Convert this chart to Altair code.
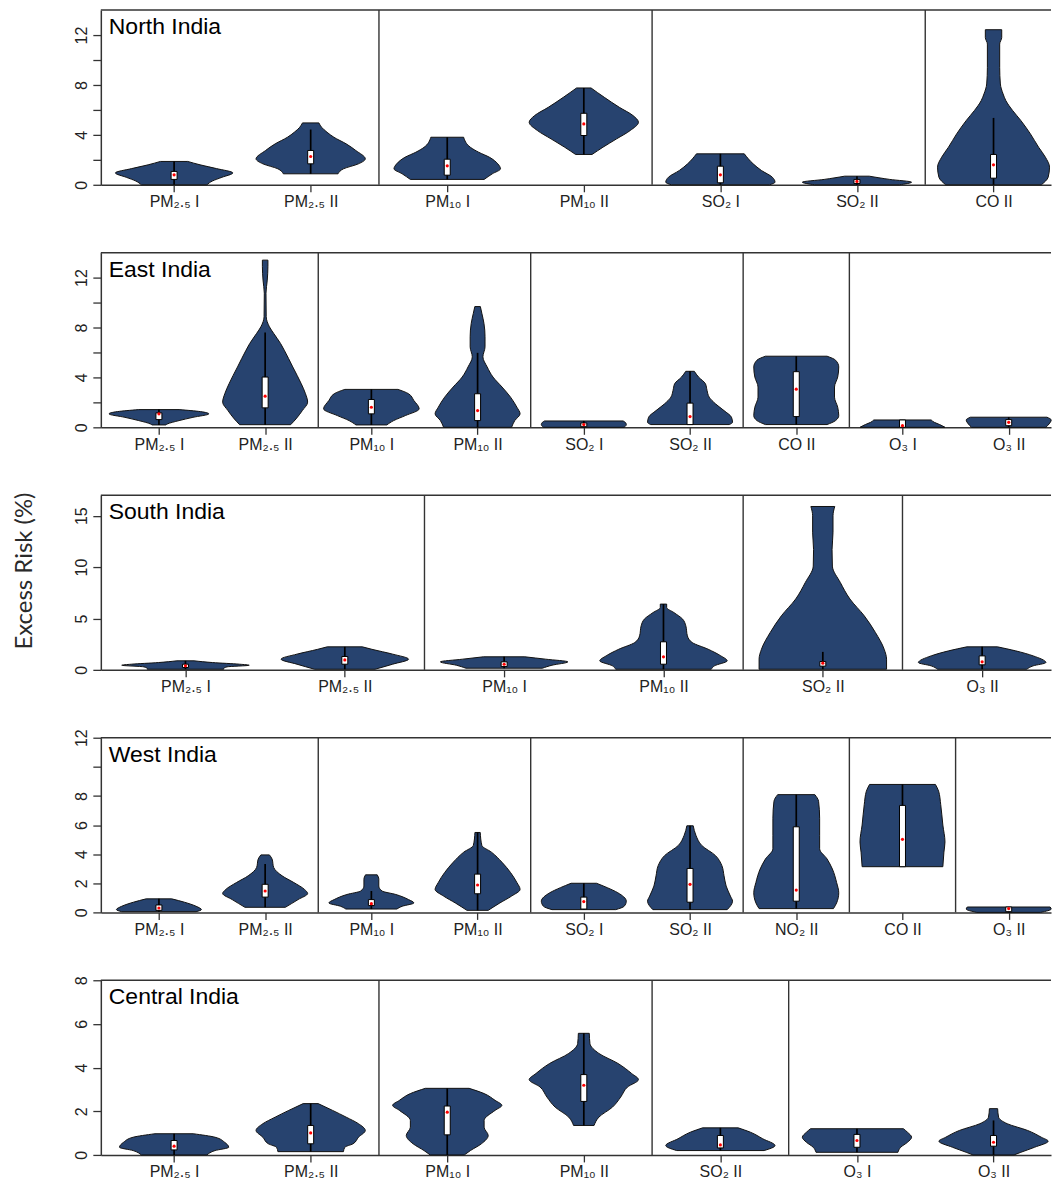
import json
import altair as alt
import pandas as pd

FONT = "Liberation Sans, Arial, Helvetica, sans-serif"
TITLE_FONT = "Lato, Open Sans, sans-serif"
FILL = "#27436F"
LINE = "#333333"
PANEL_W = 952
PANEL_H = 175
REF_W = 968

# ---------------- North India ----------------
NORTH_CATS = ["PM₂.₅ I", "PM₂.₅ II", "PM₁₀ I", "PM₁₀ II", "SO₂ I", "SO₂ II", "CO II"]
NORTH_BOUNDS = [2, 4, 6]
NORTH_YMAX = 14
NORTH_YTICKS = [0, 2, 4, 6, 8, 10, 12]
NORTH_YLABELS = [0, 4, 8, 12]
NORTH_VY = [
    [1.87, 1.6, 1.3, 0.95, 0.6, 0.3, 0.0],
    [4.96, 4.61, 4.21, 3.81, 3.28, 2.75, 2.08, 1.68, 1.28, 0.88],
    [3.81, 3.0, 2.61, 2.2, 1.68, 1.28, 0.88, 0.43],
    [7.76, 7.01, 6.21, 5.55, 5.01, 4.35, 3.68, 3.01, 2.43],
    [2.48, 1.68, 1.15, 0.61, 0.21, 0.0],
    [0.69, 0.43, 0.21, 0.0],
    [12.43, 11.8, 11.28, 9.41, 8.08, 7.28, 6.75, 5.95, 5.15, 4.08, 3.01, 2.21, 1.41, 0.61, 0.0],
]
NORTH_VW = [
    [0.10, 0.19, 0.31, 0.43, 0.35, 0.28, 0.24],
    [0.06, 0.08, 0.12, 0.17, 0.26, 0.33, 0.40, 0.35, 0.24, 0.20],
    [0.12, 0.17, 0.23, 0.31, 0.37, 0.39, 0.33, 0.27],
    [0.053, 0.15, 0.26, 0.36, 0.40, 0.34, 0.24, 0.14, 0.06],
    [0.175, 0.24, 0.30, 0.38, 0.40, 0.36],
    [0.09, 0.24, 0.40, 0.31],
    [0.06, 0.06, 0.045, 0.045, 0.05, 0.07, 0.09, 0.14, 0.2, 0.27, 0.33, 0.38, 0.41, 0.40, 0.35],
]
NORTH_BOX = [  # whisker low, q1, median, q3, whisker high
    [0, 0.43, 0.8, 1.07, 1.87],
    [0.88, 1.68, 2.27, 2.75, 4.43],
    [0.43, 0.77, 1.52, 2.05, 3.81],
    [2.43, 3.95, 4.88, 5.73, 7.76],
    [0, 0.16, 0.8, 1.49, 2.48],
    [0, 0.1, 0.27, 0.43, 0.69],
    [0, 0.53, 1.6, 2.43, 5.36],
]

# ---------------- East India ----------------
EAST_CATS = ["PM₂.₅ I", "PM₂.₅ II", "PM₁₀ I", "PM₁₀ II", "SO₂ I", "SO₂ II", "CO II", "O₃ I", "O₃ II"]
EAST_BOUNDS = [2, 4, 6, 7]
EAST_YMAX = 14
EAST_YTICKS = [0, 2, 4, 6, 8, 10, 12]
EAST_YLABELS = [0, 4, 8, 12]
EAST_VY = [
    [1.42, 1.26, 1.08, 0.8, 0.54, 0.27, 0.19],
    [13.4, 12.9, 11.8, 10.75, 8.87, 8.06, 7.53, 6.72, 6.18, 4.84, 3.49, 2.69, 2.02, 1.34, 0.67, 0.21],
    [3.04, 2.69, 2.15, 1.48, 0.94, 0.54, 0.19],
    [9.68, 9.14, 8.33, 7.26, 6.45, 5.65, 4.84, 4.03, 3.23, 2.42, 1.61, 1.08, 0.54, 0.0],
    [0.51, 0.4, 0.22, 0.0],
    [4.49, 4.03, 3.49, 2.96, 2.42, 1.88, 1.34, 0.81, 0.4, 0.22],
    [5.7, 5.38, 4.84, 4.03, 3.23, 2.42, 1.61, 0.94, 0.54, 0.22],
    [0.59, 0.4, 0.22, 0.0],
    [0.81, 0.59, 0.27, 0.0],
]
EAST_VW = [
    [0.19, 0.39, 0.47, 0.32, 0.19, 0.08, 0.065],
    [0.026, 0.026, 0.02, 0.008, 0.01, 0.04, 0.08, 0.145, 0.18, 0.26, 0.34, 0.38, 0.40, 0.35, 0.29, 0.24],
    [0.25, 0.35, 0.40, 0.45, 0.32, 0.21, 0.145],
    [0.026, 0.04, 0.06, 0.07, 0.07, 0.05, 0.09, 0.145, 0.23, 0.31, 0.37, 0.40, 0.35, 0.32],
    [0.37, 0.39, 0.40, 0.38],
    [0.04, 0.08, 0.145, 0.16, 0.18, 0.24, 0.32, 0.39, 0.40, 0.37],
    [0.29, 0.37, 0.40, 0.39, 0.36, 0.36, 0.39, 0.40, 0.37, 0.29],
    [0.27, 0.30, 0.35, 0.40],
    [0.36, 0.40, 0.38, 0.35],
]
EAST_BOX = [
    [0.19, 0.62, 1.08, 1.16, 1.42],
    [0.21, 1.56, 2.5, 4.03, 7.6],
    [0.19, 1.08, 1.61, 2.23, 3.04],
    [0, 0.54, 1.34, 2.69, 5.97],
    [0, 0.05, 0.22, 0.35, 0.51],
    [0.22, 0.22, 0.86, 1.94, 4.49],
    [0.22, 0.86, 3.06, 4.46, 5.7],
    [0, 0, 0.13, 0.59, 0.59],
    [0, 0.13, 0.4, 0.62, 0.81],
]

# ---------------- South India ----------------
SOUTH_CATS = ["PM₂.₅ I", "PM₂.₅ II", "PM₁₀ I", "PM₁₀ II", "SO₂ II", "O₃ II"]
SOUTH_BOUNDS = [2, 4, 5]
SOUTH_YMAX = 17
SOUTH_YTICKS = [0, 5, 10, 15]
SOUTH_YLABELS = [0, 5, 10, 15]
SOUTH_VY = [
    [0.88, 0.71, 0.55, 0.45, 0.29, 0.13, 0.06],
    [2.24, 2.0, 1.53, 1.04, 0.55, 0.06],
    [1.27, 1.04, 0.78, 0.45, 0.16],
    [6.4, 6.07, 5.58, 4.94, 4.29, 3.31, 2.66, 2.01, 1.36, 0.88, 0.39, 0.06],
    [15.9, 15.0, 13.4, 11.7, 10.1, 8.5, 6.9, 5.26, 3.64, 2.01, 1.04, 0.06],
    [2.24, 1.85, 1.36, 0.71, 0.39, 0.06],
]
SOUTH_VW = [
    [0.054, 0.17, 0.34, 0.40, 0.26, 0.24, 0.24],
    [0.11, 0.17, 0.30, 0.40, 0.30, 0.19],
    [0.13, 0.26, 0.40, 0.30, 0.24],
    [0.02, 0.02, 0.065, 0.12, 0.14, 0.15, 0.18, 0.28, 0.36, 0.40, 0.32, 0.30],
    [0.075, 0.064, 0.064, 0.058, 0.06, 0.11, 0.17, 0.26, 0.33, 0.385, 0.40, 0.40],
    [0.096, 0.21, 0.32, 0.40, 0.32, 0.28],
]
SOUTH_BOX = [
    [0.06, 0.23, 0.39, 0.55, 0.88],
    [0.06, 0.55, 0.97, 1.3, 2.24],
    [0.16, 0.32, 0.55, 0.78, 1.27],
    [0.06, 0.55, 1.27, 2.73, 6.4],
    [0.06, 0.36, 0.65, 0.81, 1.75],
    [0.06, 0.49, 0.78, 1.36, 2.24],
]

# ---------------- West India ----------------
WEST_CATS = ["PM₂.₅ I", "PM₂.₅ II", "PM₁₀ I", "PM₁₀ II", "SO₂ I", "SO₂ II", "NO₂ II", "CO II", "O₃ II"]
WEST_BOUNDS = [2, 4, 6, 7, 8]
WEST_YMAX = 12
WEST_YTICKS = [0, 2, 4, 6, 8, 10, 12]
WEST_YLABELS = [0, 2, 4, 6, 8, 12]
WEST_VY = [
    [0.93, 0.7, 0.42, 0.19, 0.05],
    [3.95, 3.67, 3.09, 2.51, 2.05, 1.58, 1.3, 0.88, 0.35],
    [2.58, 2.28, 1.81, 1.47, 1.23, 0.88, 0.65, 0.42, 0.23],
    [5.49, 4.6, 4.14, 3.44, 2.74, 2.05, 1.58, 1.12, 0.65, 0.14],
    [2.0, 1.7, 1.35, 0.77, 0.42, 0.19],
    [5.95, 5.3, 4.6, 3.9, 3.21, 2.51, 1.81, 1.12, 0.77, 0.19],
    [8.09, 7.63, 6.47, 5.3, 4.37, 3.67, 2.98, 2.05, 1.35, 0.65, 0.26],
    [8.79, 8.33, 7.4, 6.0, 4.84, 4.14, 3.14],
    [0.37, 0.23, 0.0],
]
WEST_VW = [
    [0.12, 0.24, 0.35, 0.40, 0.35],
    [0.04, 0.065, 0.08, 0.16, 0.27, 0.37, 0.40, 0.31, 0.19],
    [0.055, 0.07, 0.07, 0.1, 0.23, 0.35, 0.40, 0.29, 0.24],
    [0.025, 0.04, 0.13, 0.23, 0.31, 0.37, 0.40, 0.32, 0.21, 0.1],
    [0.12, 0.22, 0.32, 0.40, 0.38, 0.30],
    [0.03, 0.055, 0.11, 0.24, 0.30, 0.32, 0.34, 0.38, 0.40, 0.35],
    [0.175, 0.21, 0.22, 0.22, 0.22, 0.29, 0.34, 0.38, 0.40, 0.38, 0.35],
    [0.31, 0.34, 0.36, 0.38, 0.40, 0.39, 0.38],
    [0.39, 0.40, 0.30],
]
WEST_BOX = [
    [0.05, 0.14, 0.3, 0.51, 0.93],
    [0.35, 1.05, 1.47, 1.93, 3.33],
    [0.23, 0.47, 0.6, 0.88, 1.47],
    [0.14, 1.28, 1.88, 2.63, 5.49],
    [0.19, 0.23, 0.74, 1.05, 2.0],
    [0.19, 0.7, 1.93, 3.02, 5.95],
    [0.26, 0.77, 1.53, 5.88, 8.09],
    [3.14, 3.14, 5.02, 7.35, 8.79],
    [0, 0.05, 0.26, 0.37, 0.37],
]

# ---------------- Central India ----------------
CENTRAL_CATS = ["PM₂.₅ I", "PM₂.₅ II", "PM₁₀ I", "PM₁₀ II", "SO₂ II", "O₃ I", "O₃ II"]
CENTRAL_BOUNDS = [2, 4, 5]
CENTRAL_YMAX = 8
CENTRAL_YTICKS = [0, 2, 4, 6, 8]
CENTRAL_YLABELS = [0, 2, 4, 6, 8]
CENTRAL_VY = [
    [0.97, 0.81, 0.58, 0.35, 0.2, 0.0],
    [2.35, 2.04, 1.73, 1.43, 1.12, 0.81, 0.51, 0.35, 0.15],
    [3.05, 2.81, 2.5, 2.27, 2.04, 1.58, 1.27, 0.89, 0.51, 0.2, 0.0],
    [5.57, 5.1, 4.65, 4.19, 3.73, 3.45, 3.11, 2.65, 2.19, 1.73, 1.35],
    [1.24, 1.04, 0.74, 0.43, 0.2],
    [1.2, 1.04, 0.81, 0.58, 0.35, 0.12],
    [2.12, 1.73, 1.43, 1.12, 0.81, 0.63, 0.35, 0.12, 0.0],
]
CENTRAL_VW = [
    [0.14, 0.30, 0.37, 0.40, 0.30, 0.24],
    [0.055, 0.16, 0.26, 0.35, 0.40, 0.35, 0.31, 0.25, 0.24],
    [0.16, 0.27, 0.35, 0.40, 0.35, 0.27, 0.27, 0.30, 0.25, 0.17, 0.125],
    [0.04, 0.045, 0.11, 0.25, 0.35, 0.40, 0.32, 0.27, 0.21, 0.11, 0.075],
    [0.13, 0.22, 0.31, 0.40, 0.32],
    [0.34, 0.37, 0.40, 0.37, 0.32, 0.30],
    [0.03, 0.037, 0.1, 0.25, 0.35, 0.40, 0.30, 0.20, 0.15],
]
CENTRAL_BOX = [
    [0, 0.23, 0.4, 0.66, 0.97],
    [0.15, 0.51, 1.01, 1.35, 2.35],
    [0, 0.92, 1.96, 2.24, 3.05],
    [1.35, 2.45, 3.19, 3.68, 5.57],
    [0.2, 0.32, 0.46, 0.89, 1.24],
    [0.12, 0.35, 0.66, 0.94, 1.2],
    [0, 0.4, 0.58, 0.89, 1.58],
]

Y_TITLE = "Excess Risk (%)"


def panel(name, cats, bounds, ymax, yticks, ylabels, vy, vw, box, ytitle=None):
    n = len(cats)
    xmax = n * PANEL_W / REF_W
    rows = []
    for i, (ys, ws) in enumerate(zip(vy, vw)):
        c = i + 0.5
        for y, w in zip(ys, ws):
            rows.append({"vid": i, "y": y, "left": c - w, "right": c + w})
    vdf = pd.DataFrame(rows)
    bdf = pd.DataFrame([
        {"c": i + 0.5, "lo": b[0], "q1": b[1], "med": b[2], "q3": b[3], "hi": b[4]}
        for i, b in enumerate(box)
    ])
    xs = alt.Scale(domain=[0, xmax], nice=False, zero=False)
    ysc = alt.Scale(domain=[0, ymax], nice=False, zero=False)

    x_expr = "[" + ",".join(json.dumps(c, ensure_ascii=False) for c in cats) + "][round(datum.value - 0.5)]"
    y_expr = "indexof(" + json.dumps(ylabels) + ", datum.value) >= 0 ? datum.label : ''"

    xaxis = alt.Axis(
        values=[i + 0.5 for i in range(n)], labelExpr=x_expr, title=None, grid=False,
        tickSize=7, labelPadding=2, labelFontSize=16, labelFont=FONT, labelColor="#222",
        labelFlush=False, labelOverlap=False,
    )
    yargs = dict(
        values=yticks, labelExpr=y_expr, grid=False, tickSize=8, labelAngle=270,
        labelAlign="center", labelBaseline="bottom", labelPadding=3, labelFontSize=16,
        labelFont=FONT, labelColor="#222", labelFlush=False, labelOverlap=False,
    )
    if ytitle:
        yargs.update(
            title=ytitle, titleFont=TITLE_FONT, titleFontSize=24, titleFontWeight="normal",
            titleColor="#2a2a2a", titleAngle=270, titleX=-76, titleY=PANEL_H / 2 - 12,
            titleAlign="center", titleBaseline="middle",
        )
    else:
        yargs.update(title=None)
    yaxis = alt.Axis(**yargs)

    def X(field):
        return alt.X(field, scale=xs, axis=xaxis)

    def Y(field):
        return alt.Y(field, scale=ysc, axis=yaxis)

    area = alt.Chart(vdf).mark_area(
        orient="horizontal", fill=FILL, stroke="#111", strokeWidth=1, interpolate="monotone"
    ).encode(
        y=Y("y:Q"),
        x=alt.X("left:Q", scale=xs, axis=xaxis, stack=None),
        x2="right:Q",
        detail="vid:N",
    )
    whisker = alt.Chart(bdf).mark_rule(color="black", strokeWidth=1.7).encode(
        x=X("c:Q"), y=Y("lo:Q"), y2="hi:Q",
    )
    boxes = alt.Chart(bdf).mark_bar(size=6, fill="white", stroke="black", strokeWidth=1).encode(
        x=X("c:Q"), y=Y("q1:Q"), y2="q3:Q",
    )
    dots = alt.Chart(bdf).mark_circle(size=10, color="red", opacity=1).encode(
        x=X("c:Q"), y=Y("med:Q"),
    )
    seps = alt.Chart(pd.DataFrame({"b": bounds})).mark_rule(color=LINE, strokeWidth=1.4).encode(
        x=X("b:Q"),
    )
    top = alt.Chart(pd.DataFrame({"t": [ymax]})).mark_rule(color=LINE, strokeWidth=1.5).encode(
        y=Y("t:Q"),
    )
    label = alt.Chart(pd.DataFrame({"name": [name], "x0": [0], "yt": [ymax]})).mark_text(
        align="left", baseline="alphabetic", dx=3, dy=24, fontSize=23, font=FONT, color="black"
    ).encode(
        x=X("x0:Q"), y=Y("yt:Q"), text="name:N",
    )
    return alt.layer(area, whisker, boxes, dots, seps, top, label).properties(
        width=PANEL_W, height=PANEL_H
    )


panels = [
    panel("North India", NORTH_CATS, NORTH_BOUNDS, NORTH_YMAX, NORTH_YTICKS, NORTH_YLABELS,
          NORTH_VY, NORTH_VW, NORTH_BOX),
    panel("East India", EAST_CATS, EAST_BOUNDS, EAST_YMAX, EAST_YTICKS, EAST_YLABELS,
          EAST_VY, EAST_VW, EAST_BOX),
    panel("South India", SOUTH_CATS, SOUTH_BOUNDS, SOUTH_YMAX, SOUTH_YTICKS, SOUTH_YLABELS,
          SOUTH_VY, SOUTH_VW, SOUTH_BOX, ytitle=Y_TITLE),
    panel("West India", WEST_CATS, WEST_BOUNDS, WEST_YMAX, WEST_YTICKS, WEST_YLABELS,
          WEST_VY, WEST_VW, WEST_BOX),
    panel("Central India", CENTRAL_CATS, CENTRAL_BOUNDS, CENTRAL_YMAX, CENTRAL_YTICKS, CENTRAL_YLABELS,
          CENTRAL_VY, CENTRAL_VW, CENTRAL_BOX),
]

chart = alt.vconcat(*panels, spacing=68, bounds="flush").configure_view(
    stroke=None
).configure_axis(
    domainColor=LINE, domainWidth=1.5, tickColor=LINE, tickWidth=1.3,
).properties(
    padding={"left": 5, "top": 0, "right": 0, "bottom": 0},
    background="white",
)

chart.save("out.html", embed_options={"renderer": "svg", "actions": False})
